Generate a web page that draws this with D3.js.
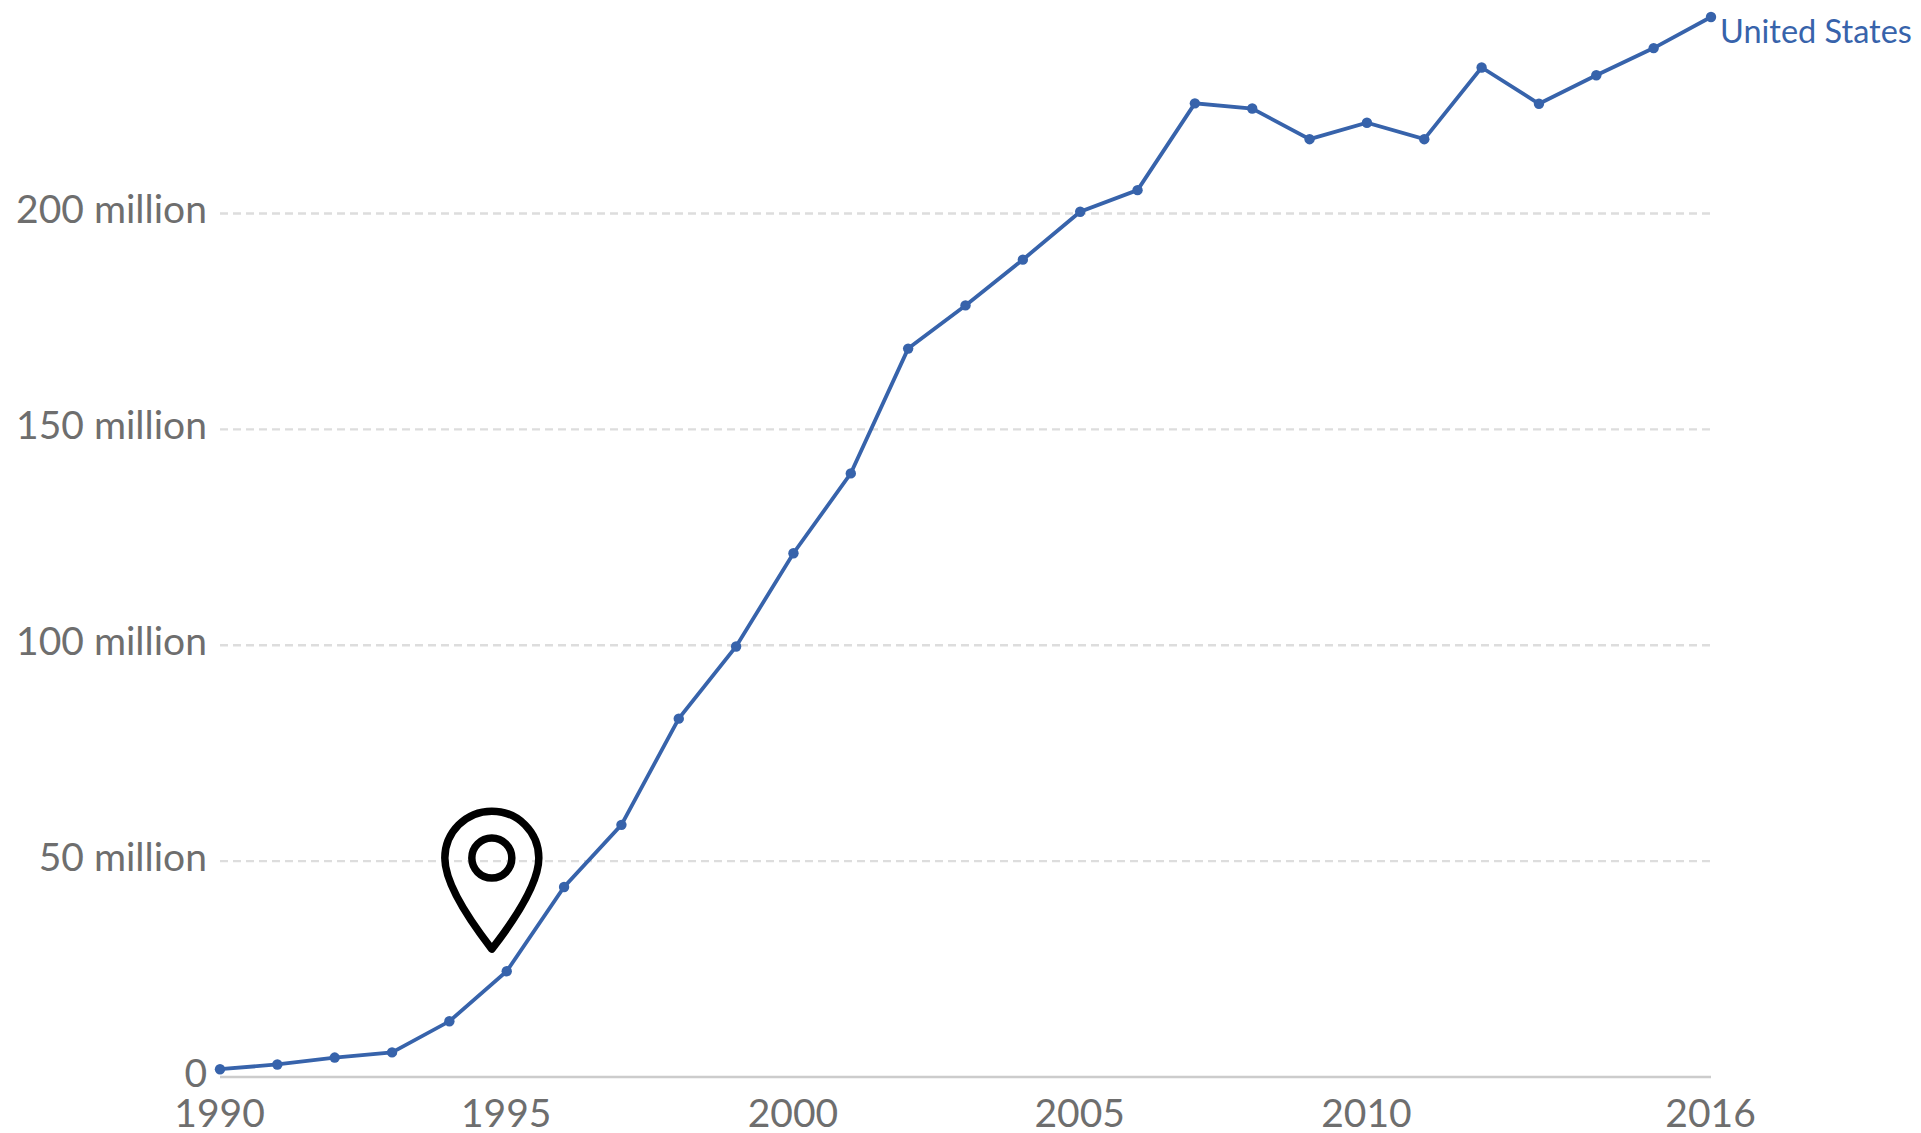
<!DOCTYPE html>
<html>
<head>
<meta charset="utf-8">
<script src="https://cdn.jsdelivr.net/npm/d3@7"></script>
<style>
    html, body { margin: 0; padding: 0; background: #fff; }
    svg { display: block; font-family: Lato, sans-serif; }
    .tick line, .domain { display: none; }
</style>
</head>
<body>
<svg id="chart" width="1921" height="1133"></svg>
<script>
const years = d3.range(1990, 2017);
const users = [1.8, 2.9, 4.5, 5.7, 12.9, 24.5, 44, 58.4, 83, 99.7, 121.3, 139.8, 168.7, 178.7,
    189.3, 200.4, 205.4, 225.5, 224.3, 217.2, 221, 217.2, 233.8, 225.4, 232, 238.3, 245.5];
const yTicks = [0, 50, 100, 150, 200];
const xTicks = [1990, 1995, 2000, 2005, 2010, 2016];
const seriesName = "United States";
const pinAt = [1994.74, 50];

const margin = { left: 220, right: 210, top: 17, bottom: 56 };
const width = 1921, height = 1133;
const blue = "#3763ab";
const grey = "#6e6e6e";

const x = d3.scaleLinear().domain([1990, 2016]).range([margin.left, width - margin.right]);
const y = d3.scaleLinear().domain([0, 245.5]).range([height - margin.bottom, margin.top]);

const svg = d3.select("#chart");

// gridlines
svg.append("g")
    .selectAll("line")
    .data(yTicks.filter(d => d > 0))
    .enter()
    .append("line")
    .attr("x1", x(1990))
    .attr("x2", x(2016))
    .attr("y1", d => y(d))
    .attr("y2", d => y(d))
    .attr("stroke", "#ddd")
    .attr("stroke-width", 2.4)
    .attr("stroke-dasharray", "8,5");

svg.append("line")
    .attr("x1", x(1990))
    .attr("x2", x(2016))
    .attr("y1", y(0))
    .attr("y2", y(0))
    .attr("stroke", "#ccc")
    .attr("stroke-width", 2.4);

// axis
const yAxis = d3.axisLeft(y)
    .tickValues(yTicks)
    .tickSize(0)
    .tickPadding(13)
    .tickFormat(d => d === 0 ? "0" : `${d} million`);

svg.append("g")
    .attr("transform", `translate(${margin.left}, 0)`)
    .call(yAxis)
    .selectAll("text")
    .attr("dy", "0.24em")
    .style("font-family", "Lato")
    .style("font-size", "39px")
    .style("fill", grey);

const xAxis = d3.axisBottom(x)
    .tickValues(xTicks)
    .tickSize(0)
    .tickPadding(22)
    .tickFormat(d3.format("d"));

svg.append("g")
    .attr("transform", `translate(-1, ${y(0)})`)
    .call(xAxis)
    .selectAll("text")
    .style("font-family", "Lato")
    .style("font-size", "39px")
    .style("fill", grey);

// series
const line = d3.line()
    .x((d, i) => x(years[i]))
    .y(d => y(d));

svg.append("path")
    .datum(users)
    .attr("d", line)
    .attr("fill", "none")
    .attr("stroke", blue)
    .attr("stroke-width", 3.8);

svg.append("g")
    .selectAll("circle")
    .data(users)
    .enter()
    .append("circle")
    .attr("cx", (d, i) => x(years[i]))
    .attr("cy", d => y(d))
    .attr("r", 5.2)
    .attr("fill", blue);

svg.append("text")
    .attr("x", x(2016) + 9)
    .attr("y", y(245.5) + 26)
    .style("font-size", "32.5px")
    .style("fill", blue)
    .text(seriesName);

// location pin
const pin = svg.append("g")
    .attr("transform", `translate(${x(pinAt[0])}, ${y(pinAt[1]) - 3})`)
    .attr("fill", "none")
    .attr("stroke", "#000")
    .attr("stroke-width", 7.5)
    .attr("stroke-linejoin", "round");

pin.append("path")
    .attr("d", "M0,91 C-14,73 -47,30 -47,0 A47,47 0 0 1 47,0 C47,30 14,73 0,91 Z");

pin.append("circle")
    .attr("r", 20);
</script>
</body>
</html>
